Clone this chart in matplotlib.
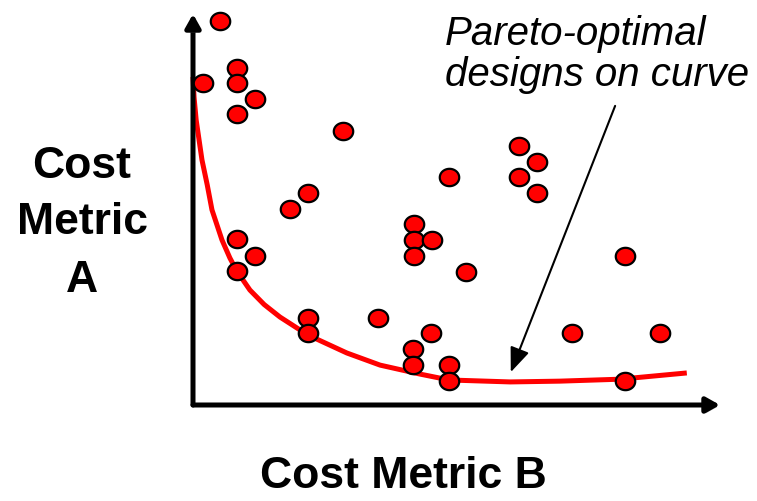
import numpy as np
import matplotlib
matplotlib.use("Agg")
import matplotlib.pyplot as plt
from matplotlib.path import Path
import matplotlib.patheffects as pe

# Design points (Cost Metric B, Cost Metric A), arbitrary units
design_b = [0.51, 0.19, 0.83, 0.83, 1.18, 0.83, 2.85, 6.19, 6.53, 6.19, 6.53, 4.86,
            2.18, 1.84, 4.19, 4.19, 4.54, 4.19, 0.83, 1.18, 0.83, 5.18, 8.20, 2.18,
            3.51, 2.18, 4.52, 7.19, 8.86, 4.17, 4.17, 4.86, 4.86, 8.20]
design_a = [9.82, 8.24, 8.62, 8.24, 7.83, 7.44, 7.01, 6.62, 6.21, 5.83, 5.42, 5.83,
            5.42, 5.01, 4.63, 4.22, 4.22, 3.81, 4.25, 3.81, 3.43, 3.40, 3.81, 2.23,
            2.23, 1.84, 1.84, 1.84, 1.84, 1.43, 1.02, 1.02, 0.61, 0.61]

# Pareto front curve
front_b = [0.00, 0.02, 0.06, 0.17, 0.27, 0.36, 0.55, 0.70, 0.83, 1.08, 1.35, 1.65,
           2.18, 2.92, 3.55, 4.31, 4.86, 6.02, 6.96, 8.10, 9.37]
front_a = [8.39, 7.87, 7.29, 6.27, 5.63, 4.99, 4.22, 3.76, 3.43, 2.94, 2.57, 2.25,
           1.79, 1.33, 1.02, 0.79, 0.64, 0.59, 0.61, 0.66, 0.82]

x_label = "Cost Metric B"
y_label = "Cost\nMetric\nA"
note = "Pareto-optimal\ndesigns on curve"

W, H = 757, 501
fig = plt.figure(figsize=(W / 100, H / 100), dpi=100)
ax = fig.add_axes([193 / W, (H - 405) / H, (720 - 193) / W, (405 - 14) / H])
ax.set_xlim(0, 10)
ax.set_ylim(0, 10)
ax.axis("off")

# axes with arrows
shadow = [pe.SimplePatchShadow(offset=(1.5, -1.5), shadow_rgbFace="0.75", alpha=1.0), pe.Normal()]
for end in [(1, 0), (0, 1)]:
    ax.annotate("", xy=end, xytext=(0, 0), xycoords="axes fraction",
                textcoords="axes fraction",
                arrowprops=dict(arrowstyle="-|>,head_length=0.8,head_width=0.45",
                                lw=3.6, color="black", shrinkA=0, shrinkB=0,
                                path_effects=shadow))

# Pareto curve
ax.plot(front_b, front_a, color="#ff0000", lw=3.6, solid_capstyle="butt",
        solid_joinstyle="round", zorder=2, clip_on=False)

# ellipse marker
t = np.linspace(0, 2 * np.pi, 60)
ell = Path(np.column_stack([1.12 * np.cos(t), np.sin(t)]), closed=True)
ax.plot(design_b, design_a, linestyle="none", marker=ell, markersize=14,
        markerfacecolor="#ff0000", markeredgecolor="black", markeredgewidth=1.6,
        zorder=3, clip_on=False)

# annotation arrow
ax.annotate("", xy=(6.03, 0.84), xytext=(8.01, 7.65),
            arrowprops=dict(arrowstyle="-|>,head_length=1.5,head_width=0.6",
                            lw=1.5, color="black", shrinkA=0, shrinkB=0), zorder=4)

ax.text(4.78, 8.17, note, fontsize=29, fontstyle="italic", family="Liberation Sans",
        ha="left", va="baseline", linespacing=1.1)

fig.text(403 / W, 1 - 476 / H, x_label, fontsize=32, fontweight="bold",
         family="Liberation Sans", ha="center", va="center")
fig.text(82 / W, 1 - 223 / H, y_label, fontsize=32, fontweight="bold",
         family="Liberation Sans", ha="center", va="center", linespacing=1.5)

fig.savefig("out.png", dpi=100)
